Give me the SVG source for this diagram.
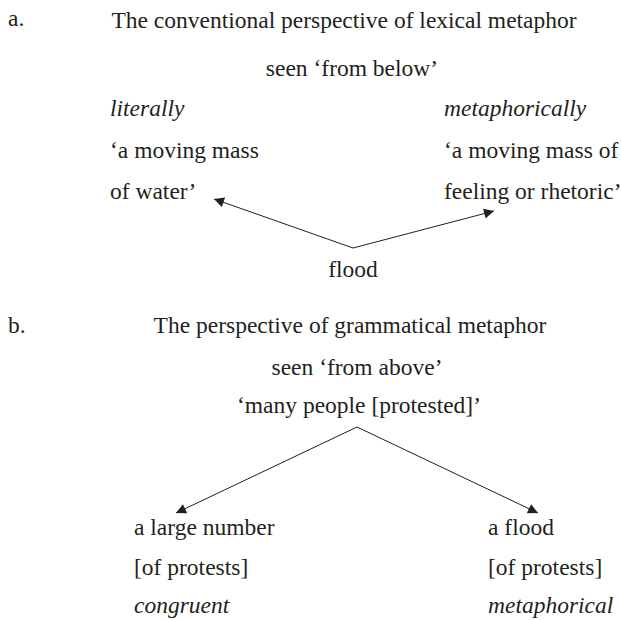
<svg xmlns="http://www.w3.org/2000/svg" width="621" height="620" viewBox="0 0 621 620">
  <style>
    text { font-family: "Liberation Serif", "Times New Roman", serif; font-size: 23.5px; fill: #231f20; }
    .it { font-style: italic; }
    .mid { text-anchor: middle; }
    .conn { stroke: #231f20; stroke-width: 1; fill: none; }
  </style>
  <defs>
    <marker id="arrow" viewBox="0 0 10 10" refX="10" refY="5" markerWidth="11" markerHeight="10" markerUnits="userSpaceOnUse" orient="auto">
      <path d="M0,0 L10,5 L0,10 z" fill="#231f20"/>
    </marker>
  </defs>

  <!-- Panel a: lexical metaphor -->
  <g id="label-a"><text x="8" y="26">a.</text></g>
  <g id="title-a"><text x="344" y="28" class="mid">The conventional perspective of lexical metaphor</text></g>
  <g id="sub-a"><text x="352" y="76" class="mid">seen ‘from below’</text></g>
  <g id="literal">
    <text x="110" y="116" class="it">literally</text>
    <text x="110" y="158">‘a moving mass</text>
    <text x="110" y="199">of water’</text>
  </g>
  <g id="metaphoric">
    <text x="444" y="116" class="it">metaphorically</text>
    <text x="444" y="158">‘a moving mass of</text>
    <text x="444" y="199">feeling or rhetoric’</text>
  </g>
  <g id="flood"><text x="353" y="277" class="mid">flood</text></g>

  <!-- Panel b: grammatical metaphor -->
  <g id="label-b"><text x="8" y="333">b.</text></g>
  <g id="title-b"><text x="350" y="333" class="mid">The perspective of grammatical metaphor</text></g>
  <g id="sub-b"><text x="357" y="375" class="mid">seen ‘from above’</text></g>
  <g id="many-people"><text x="359" y="413" class="mid">‘many people [protested]’</text></g>
  <g id="congruent">
    <text x="134" y="535">a large number</text>
    <text x="134" y="575">[of protests]</text>
    <text x="134" y="613" class="it">congruent</text>
  </g>
  <g id="metaphorical">
    <text x="488" y="535">a flood</text>
    <text x="488" y="575">[of protests]</text>
    <text x="488" y="613" class="it">metaphorical</text>
  </g>

  <!-- Connectors -->
  <g id="connectors">
    <line class="conn" x1="353" y1="248" x2="214" y2="199" marker-end="url(#arrow)"/>
    <line class="conn" x1="353" y1="248" x2="494" y2="211" marker-end="url(#arrow)"/>
    <line class="conn" x1="357" y1="427" x2="176" y2="513" marker-end="url(#arrow)"/>
    <line class="conn" x1="357" y1="427" x2="538" y2="513" marker-end="url(#arrow)"/>
  </g>
</svg>
